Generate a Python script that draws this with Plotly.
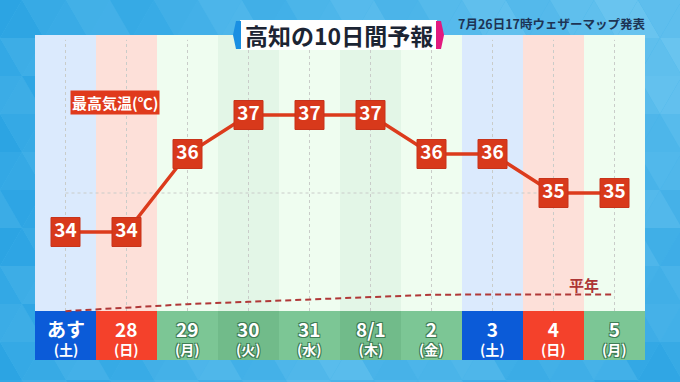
import plotly.graph_objects as go

# ---------------- data ----------------
days = ["あす", "28", "29", "30", "31", "8/1", "2", "3", "4", "5"]
weekdays = ["土", "日", "月", "火", "水", "木", "金", "土", "日", "月"]
highs = [34, 34, 36, 37, 37, 37, 36, 36, 35, 35]
normals = [31.97, 32.06, 32.15, 32.21, 32.27, 32.32, 32.39, 32.4, 32.4, 32.4]
title_text = "高知の10日間予報"
issued_text = "7月26日17時ウェザーマップ発表"
ylabel_text = "最高気温(℃)"
normal_label = "平年"

# ---------------- layout geometry ----------------
W, H = 680, 382
L, R, T, B = 35, 35, 35, 22
PX0, PX1, PY0, PY1 = L, W - R, T, H - B   # plot area in pixels
BAND_TOP_PX = 311
FONT = "Noto Sans CJK JP"

def px_to_paper(x, y):
    return (x - PX0) / (PX1 - PX0), (PY1 - y) / (PY1 - PY0)

band_frac = (PY1 - BAND_TOP_PX) / (PY1 - PY0)

n = len(days)
xs = list(range(n))

shapes = []

# ---------------- background triangle pattern ----------------
def mix(c1, c2, t):
    t = max(0.0, min(1.0, t))
    a = [int(c1[i:i + 2], 16) for i in (1, 3, 5)]
    b = [int(c2[i:i + 2], 16) for i in (1, 3, 5)]
    return "#%02x%02x%02x" % tuple(round(a[k] + (b[k] - a[k]) * t) for k in range(3))

dark, light = "#1c9ce0", "#86d3f5"
tw, th = 44, 38
rows = int(H / th) + 2
cols = int(W / tw) + 3
for r in range(rows):
    y0, y1 = r * th, (r + 1) * th
    off = -tw / 2 if r % 2 else 0
    for c in range(-1, cols):
        x = c * tw + off
        for kind in (0, 1):
            if kind == 0:
                pts = [(x, y1), (x + tw, y1), (x + tw / 2, y0)]
            else:
                pts = [(x + tw / 2, y0), (x + tw * 1.5, y0), (x + tw, y1)]
            cx = sum(p[0] for p in pts) / 3
            cy = sum(p[1] for p in pts) / 3
            t = 0.15 + 0.5 * (cx / W) * (1 - cy / H) + 0.3 * (cy / H) * (1 - abs(cx / W - 0.5) * 2)
            t += [0.0, 0.07, 0.14][(r + c + kind) % 3]
            path = "M " + " L ".join("%.4f,%.4f" % px_to_paper(px, py) for px, py in pts) + " Z"
            shapes.append(dict(type="path", xref="paper", yref="paper", path=path,
                               fillcolor=mix(dark, light, t), line=dict(width=0),
                               layer="below"))

# ---------------- panel & column backgrounds ----------------
def rounded_rect(x0, y0, x1, y1, rad):
    p = lambda x, y: "%.4f,%.4f" % px_to_paper(x, y)
    return ("M " + p(x0 + rad, y0) + " L " + p(x1 - rad, y0) + " Q " + p(x1, y0) + " " + p(x1, y0 + rad)
            + " L " + p(x1, y1 - rad) + " Q " + p(x1, y1) + " " + p(x1 - rad, y1)
            + " L " + p(x0 + rad, y1) + " Q " + p(x0, y1) + " " + p(x0, y1 - rad)
            + " L " + p(x0, y0 + rad) + " Q " + p(x0, y0) + " " + p(x0 + rad, y0) + " Z")

shapes.append(dict(type="path", xref="paper", yref="paper",
                   path=rounded_rect(PX0, PY0, PX1, PY1, 5),
                   fillcolor="#eefdf0", line=dict(width=0), layer="below"))

darker_green_idx = {3, 5}

def col_colors(i):
    wd = weekdays[i]
    if wd == "土":
        return "#dbeafd", "#0b5bd8", False
    if wd == "日":
        return "#fde0d9", "#f4412b", False
    if i in darker_green_idx:
        return "#e3f6e7", "#71bb8a", True
    return "#effdf0", "#7cc695", True

for i in xs:
    bg, band, _ = col_colors(i)
    shapes.append(dict(type="rect", xref="x", yref="y domain",
                       x0=i - 0.5, x1=i + 0.5, y0=band_frac, y1=1,
                       fillcolor=bg, line=dict(width=0), layer="below"))
    shapes.append(dict(type="rect", xref="x", yref="y domain",
                       x0=i - 0.5, x1=i + 0.5, y0=0, y1=band_frac,
                       fillcolor=band, line=dict(width=0), layer="below"))

# gridlines (dotted)
for i in xs:
    shapes.append(dict(type="line", xref="x", yref="y domain", x0=i, x1=i,
                       y0=band_frac, y1=0.985,
                       line=dict(color="#c9ccc9", width=1, dash="dot"), layer="below"))
shapes.append(dict(type="line", xref="x", yref="y", x0=0, x1=n - 1, y0=35, y1=35,
                   line=dict(color="#c9ccc9", width=1, dash="dot"), layer="below"))

# ---------------- title box ----------------
def pth(pts):
    return "M " + " L ".join("%.4f,%.4f" % px_to_paper(px, py) for px, py in pts) + " Z"

shapes.append(dict(type="path", xref="paper", yref="paper",
                   path=pth([(240, 20), (437, 20), (437, 50), (240, 50)]),
                   fillcolor="white", line=dict(width=0), layer="above"))
shapes.append(dict(type="path", xref="paper", yref="paper",
                   path=pth([(236, 21), (241, 21), (241, 49), (236, 49), (233, 35)]),
                   fillcolor="#1a8fe2", line=dict(width=0), layer="above"))
shapes.append(dict(type="path", xref="paper", yref="paper",
                   path=pth([(436, 21), (441, 21), (444, 35), (441, 49), (436, 49)]),
                   fillcolor="#e2197f", line=dict(width=0), layer="above"))

# ---------------- traces ----------------
fig = go.Figure()
fig.add_trace(go.Scatter(
    x=xs, y=normals, mode="lines",
    line=dict(color="#b03838", width=2, dash="6px,4px"),
    hoverinfo="skip", showlegend=False))
fig.add_trace(go.Scatter(
    x=xs, y=highs, mode="lines+markers+text",
    line=dict(color="#dc3b1c", width=3.5),
    marker=dict(symbol="square", size=29, color="#d8391b",
                line=dict(color="#c8331a", width=1)),
    text=[str(v) for v in highs], textposition="middle center",
    textfont=dict(family=FONT, size=19, color="white", weight="bold"),
    hoverinfo="skip", showlegend=False))

# ---------------- annotations ----------------
ann = []
shadow_green = "-1px -1px 0 #3f7d55, 1px -1px 0 #3f7d55, -1px 1px 0 #3f7d55, 1px 1px 0 #3f7d55"
for i in xs:
    _, _, green = col_colors(i)
    sh = shadow_green if green else "none"
    txt = "<span style='font-size:19px'>" + days[i] + "</span><br>(" + weekdays[i] + ")"
    ann.append(dict(x=i, y=1 - (337 - PY0) / (PY1 - PY0), xref="x", yref="y domain",
                    text=txt, showarrow=False, xanchor="center", yanchor="middle",
                    font=dict(family=FONT, size=14, color="white", weight="bold", shadow=sh)))

tx, ty = px_to_paper(338.5, 35)
ann.append(dict(x=tx, y=ty, xref="paper", yref="paper", text=title_text, showarrow=False,
                xanchor="center", yanchor="middle",
                font=dict(family=FONT, size=23, color="#1c2433", weight="bold")))
ix, iy = px_to_paper(647, 23)
ann.append(dict(x=ix, y=iy, xref="paper", yref="paper", text=issued_text, showarrow=False,
                xanchor="right", yanchor="middle",
                font=dict(family=FONT, size=12.5, color="#1d3455", weight="bold")))
lx, ly = px_to_paper(115, 102)
ann.append(dict(x=lx, y=ly, xref="paper", yref="paper", text=ylabel_text, showarrow=False,
                xanchor="center", yanchor="middle", bgcolor="#e03a1c", borderpad=1,
                font=dict(family=FONT, size=15, color="white", weight="bold")))
ann.append(dict(x=8.5, y=1 - (284 - PY0) / (PY1 - PY0), xref="x", yref="y domain",
                text=normal_label, showarrow=False, xanchor="center", yanchor="middle",
                font=dict(family=FONT, size=15, color="#ad3535", weight="bold")))

y_top = 34 + (232 - PY0) / 39.0
y_bot = 34 - (PY1 - 232) / 39.0

fig.update_layout(
    width=W, height=H,
    margin=dict(l=L, r=R, t=T, b=B, pad=0),
    paper_bgcolor="#45b5ea", plot_bgcolor="rgba(0,0,0,0)",
    xaxis=dict(range=[-0.5, n - 0.5], showgrid=False, zeroline=False,
               showticklabels=False, showline=False, fixedrange=True),
    yaxis=dict(range=[y_bot, y_top], showgrid=False, zeroline=False,
               showticklabels=False, showline=False, fixedrange=True),
    shapes=shapes, annotations=ann, showlegend=False,
)

fig.write_html("out.html", config={"displayModeBar": False},
               post_script="document.body.style.margin='0';document.body.style.overflow='hidden';")
